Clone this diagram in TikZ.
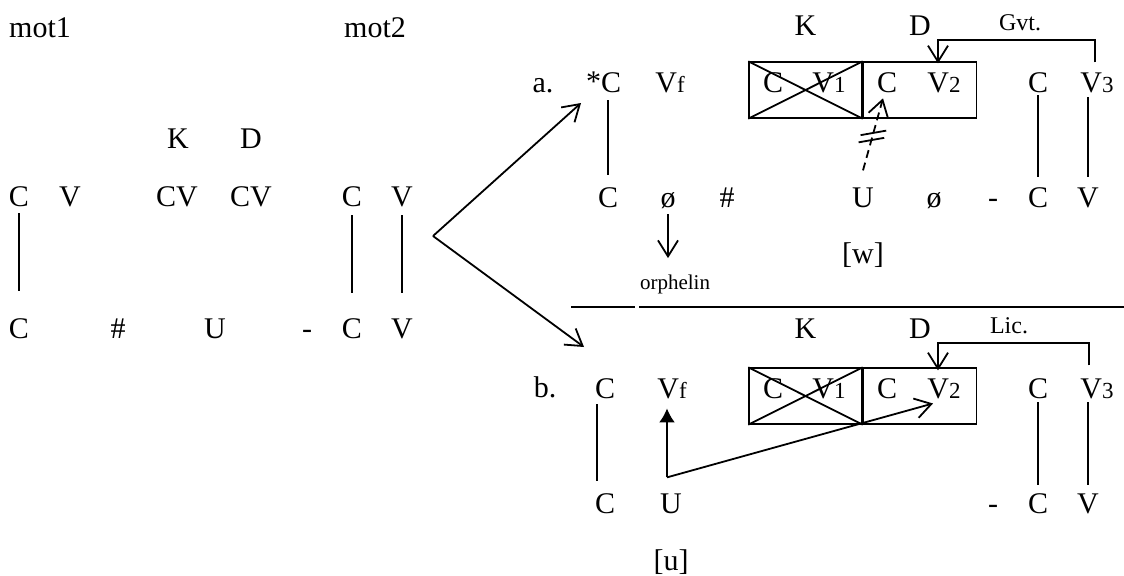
\documentclass[tikz,border=0pt]{standalone}
\usepackage{fontspec}
\setmainfont{Liberation Serif}
\usetikzlibrary{
  arrows.meta,
  positioning
}
\newcommand{\idx}[1]{{\fontsize{11.5}{12}\selectfont #1}}
\tikzset{
  >={Straight Barb[length=8pt,width=10pt]},
  seg/.style={inner sep=0pt,outer sep=0pt,anchor=base},
  flow/.style={->,line width=0.9pt},
  fill flow/.style={-{Latex[length=7pt,width=8pt]},line width=0.9pt},
  assoc/.style={line width=0.9pt,shorten <=3pt,shorten >=5pt},
  blocked/.style={->,line width=0.9pt,dash pattern=on 4pt off 2.5pt},
  half/.style={draw,line width=0.7pt,minimum width=56.5pt,minimum height=28pt,inner sep=0pt},
  cross/.style={line width=0.9pt},
  rule/.style={line width=0.9pt},
  tinylabel/.style={font=\fontsize{10.5}{12}\selectfont,inner sep=0pt},
  smalllabel/.style={font=\fontsize{12}{14}\selectfont,inner sep=0pt,anchor=base}
}

\begin{document}
\begin{tikzpicture}[x=0.5pt,y=-0.5pt,font=\fontsize{15}{18}\selectfont]
  \useasboundingbox (0,0) rectangle (1124,575);

  % input: mot1 # mot2
  \node[seg] (mot1) at (40,37) {mot1};
  \node[seg] (mot2) at (375,37) {mot2};
  \node[seg] (k0) at (178,148) {K};
  \node[seg] (d0) at (251,148) {D};

  \node[seg] (c0) at (19,206) {C};
  \node[seg] (v0) at (70,206) {V};
  \node[seg] (cvk) at (177,206) {CV};
  \node[seg] (cvd) at (251,206) {CV};
  \node[seg] (c5) at (352,206) {C};
  \node[seg] (v5) at (402,206) {V};

  \node[seg] (c0low) at (19,338) {C};
  \node[seg] (hash0) at (118,338) {\#};
  \node[seg] (u0) at (215,338) {U};
  \node[seg] (dash0) at (307,338) {-};
  \node[seg] (c5low) at (352,338) {C};
  \node[seg] (v5low) at (402,338) {V};

  \draw[assoc,shorten <=3.5pt,shorten >=13.5pt] (c0.south) -- (c0low.north);
  \draw[assoc,shorten <=4.5pt,shorten >=12.5pt] (c5.south) -- (c5low.north);
  \draw[assoc,shorten <=4.5pt,shorten >=12.5pt] (v5.south) -- (v5low.north);

  \coordinate (fork) at (433,236);
  \coordinate (toa) at (581,103);
  \coordinate (tob) at (584,347);
  \draw[flow] (fork) -- (toa);
  \draw[flow] (fork) -- (tob);

  % a. gouvernement
  \node[seg] (la) at (543,92) {a.};
  \node[seg] (ca) at (611,92) {C};
  \node[seg,anchor=north east] (stara) at (ca.north west) {*};
  \node[seg] (vfa) at (670,92) {V\idx{f}};
  \node[half] (killa) at (805.5,90) {};
  \node[half,right=0pt of killa] (keepa) {};
  \draw[cross] (killa.north west) -- (killa.south east);
  \draw[cross] (killa.south west) -- (killa.north east);
  \node[seg,above=13pt of killa] (ka) {K};
  \node[seg,above=13pt of keepa] (da) {D};
  \node[seg] (c1a) at (773,92) {C};
  \node[seg] (v1a) at (829,92) {V\idx{1}};
  \node[seg] (c2a) at (887,92) {C};
  \node[seg] (v2a) at (944,92) {V\idx{2}};
  \node[seg] (c3a) at (1038,92) {C};
  \node[seg] (v3a) at (1097,92) {V\idx{3}};
  \node[smalllabel] (gvt) at (1020,30) {Gvt.};

  \node[seg] (clowa) at (608,207) {C};
  \node[seg] (phia) at (668,207) {ø};
  \node[seg] (hasha) at (727,207) {\#};
  \node[seg] (ua) at (863,207) {U};
  \node[seg] (phi2a) at (934,207) {ø};
  \node[seg] (dasha) at (993,207) {-};
  \node[seg] (c3lowa) at (1038,207) {C};
  \node[seg] (vlowa) at (1088,207) {V};
  \node[seg,anchor=center] (wa) at (863,255) {[w]};
  \node[tinylabel] (orph) at (675,284) {orphelin};

  \draw[assoc,shorten <=4pt,shorten >=6pt] (ca.south -| clowa) -- (clowa.north);
  \draw[assoc,shorten <=1.5pt] (c3a.south) -- (c3lowa.north);
  \draw[assoc,shorten <=2.5pt] (v3a.south -| vlowa) -- (vlowa.north);
  \draw[flow] ([xshift=-1pt,yshift=5pt]v3a.north) -- ++(0,-22) -| ([xshift=-3pt,yshift=4.5pt]v2a.north);
  \draw[blocked] ([yshift=8.5pt]ua.north) -- coordinate[pos=0.42] (tick1) coordinate[pos=0.52] (tick2) ([xshift=-2pt,yshift=-3pt]c2a.south);
  \draw[rule] ([shift={(190:6.5pt)}]tick1) -- ([shift={(10:6.5pt)}]tick1);
  \draw[rule] ([shift={(190:6.5pt)}]tick2) -- ([shift={(10:6.5pt)}]tick2);
  \draw[flow,shorten <=3pt,shorten >=8pt] (phia.south) -- (phia.south |- orph.north);

  \draw[rule] (571,307) -- (635,307);
  \draw[rule] (639,307) -- (1124,307);

  % b. licenciement
  \node[seg] (lb) at (545,397) {b.};
  \node[seg] (cb) at (605,398) {C};
  \node[seg] (vfb) at (672,398) {V\idx{f}};
  \node[half] (killb) at (805.5,396) {};
  \node[half,right=0pt of killb] (keepb) {};
  \draw[cross] (killb.north west) -- (killb.south east);
  \draw[cross] (killb.south west) -- (killb.north east);
  \node[seg,above=14.5pt of killb] (kb) {K};
  \node[seg,above=14.5pt of keepb] (db) {D};
  \node[seg] (c1b) at (773,398) {C};
  \node[seg] (v1b) at (829,398) {V\idx{1}};
  \node[seg] (c2b) at (887,398) {C};
  \node[seg] (v2b) at (944,398) {V\idx{2}};
  \node[seg] (c3b) at (1038,398) {C};
  \node[seg] (v3b) at (1097,398) {V\idx{3}};
  \node[smalllabel] (lic) at (1009,333) {Lic.};

  \node[seg] (clowb) at (605,513) {C};
  \node[seg] (ub) at (671,513) {U};
  \node[seg] (dashb) at (993,513) {-};
  \node[seg] (c3lowb) at (1038,513) {C};
  \node[seg] (vlowb) at (1088,513) {V};
  \node[seg,anchor=center] (wb) at (671,562) {[u]};

  \draw[assoc,shorten <=3pt,shorten >=6pt] ([xshift=-4pt]cb.south) -- ([xshift=-4pt]clowb.north);
  \draw[assoc,shorten <=2pt,shorten >=4pt] (c3b.south) -- (c3lowb.north);
  \draw[assoc,shorten <=2pt,shorten >=4pt] (v3b.south -| vlowb) -- (vlowb.north);
  \draw[flow] ([xshift=-4pt,yshift=6.5pt]v3b.north) -- ++(0,-22) -| ([xshift=-3pt,yshift=4pt]v2b.north);
  \coordinate (turnb) at ([xshift=-2pt,yshift=8pt]ub.north);
  \draw[fill flow] (turnb) -- ([yshift=-5pt]vfb.south -| turnb);
  \draw[flow] (turnb) -- ([xshift=-5.5pt,yshift=-2.5pt]v2b.south);
\end{tikzpicture}
\end{document}
